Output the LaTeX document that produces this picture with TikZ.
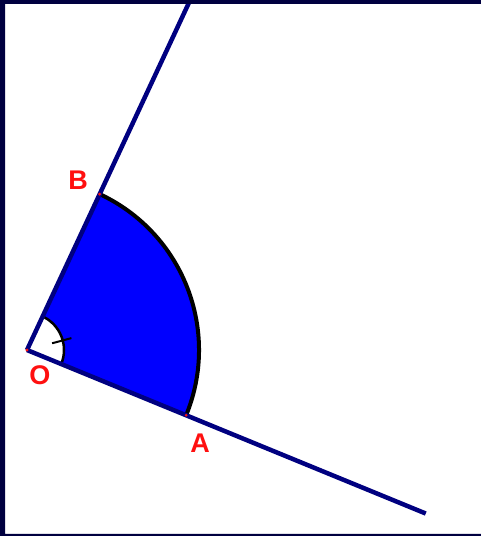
\documentclass[tikz,border=0pt]{standalone}
\usepackage{fontspec}
\setsansfont{Liberation Sans}
\usetikzlibrary{calc}
\definecolor{frame}{HTML}{000040}
\definecolor{ray}{HTML}{000080}
\definecolor{sector}{HTML}{0000FF}
\definecolor{pointred}{HTML}{FF1010}

\begin{document}
\begin{tikzpicture}[x=1pt,y=1pt,
    rayline/.style={ray,line width=4.5pt},
    lbl/.style={font=\fontsize{27}{27}\selectfont\sffamily\bfseries,text=pointred,inner sep=0pt}]
  \useasboundingbox (0,0) rectangle (481,536);
  \fill[white] (0,0) rectangle (481,536);

  % Points
  \coordinate (O) at (27,186);
  \coordinate (A) at ($(O)+(-22.3:172)$);
  \coordinate (B) at ($(O)+(65:172)$);
  \coordinate (Aend) at ($(O)+(-22.3:431)$);
  \coordinate (Bend) at ($(O)+(65:400)$);

  % Sector
  \fill[sector] (O) -- (A) arc[start angle=-22.3,end angle=65,radius=172] -- cycle;
  \draw[black,line width=4pt] (A) arc[start angle=-22.3,end angle=65,radius=172];

  % Angle mark
  \fill[white] (O) -- ++(-22.3:37) arc[start angle=-22.3,end angle=65,radius=37] -- cycle;
  \draw[black,line width=2.5pt] ($(O)+(-22.3:37)$) arc[start angle=-22.3,end angle=65,radius=37];
  \draw[black,line width=2pt] ($(O)+(15:26)$) -- ($(O)+(15:46)$);

  % Rays
  \draw[rayline] (O) -- (Aend);
  \draw[rayline] (O) -- (Bend);
  \foreach \p in {O,A,B} \fill[pointred] (\p) circle (1.6);

  % Labels
  \node[lbl] (labO) at (40,161) {O};
  \node[lbl] (labA) at (200,93) {A};
  \node[lbl] (labB) at (78,356) {B};

  % Frame
  \fill[frame,even odd rule] (0,0) rectangle (481,536) (5,2) rectangle (481,532);
\end{tikzpicture}
\end{document}
